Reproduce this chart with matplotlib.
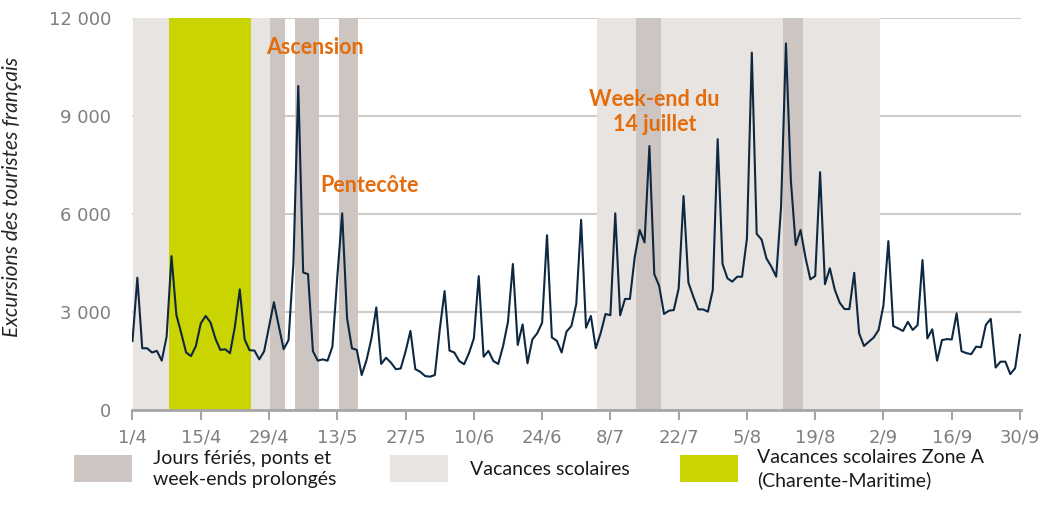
import matplotlib.pyplot as plt
from matplotlib.patches import Rectangle

# excursions journalières des touristes français, du 1/4 au 30/9
avril = [2110, 4050, 1890, 1890, 1760, 1810, 1510, 2250, 4710, 2910,
         2350, 1760, 1650, 1960, 2650, 2880, 2680, 2190, 1840, 1860,
         1740, 2550, 3690, 2160, 1830, 1820, 1550, 1800, 2550, 3300]
mai = [2570, 1860, 2140, 4490, 9920, 4210, 4160, 1800, 1510, 1550,
       1510, 1940, 4080, 6020, 2810, 1890, 1840, 1070, 1530, 2190,
       3140, 1410, 1600, 1450, 1250, 1270, 1790, 2420, 1250, 1170, 1040]
juin = [1020, 1070, 2450, 3640, 1820, 1760, 1500, 1400, 1740, 2190,
        4100, 1630, 1810, 1500, 1410, 1960, 2700, 4470, 1990, 2620,
        1430, 2160, 2350, 2670, 5350, 2220, 2120, 1760, 2400, 2570]
juillet = [3240, 5820, 2520, 2880, 1890, 2350, 2940, 2900, 6020, 2900,
           3400, 3400, 4690, 5510, 5130, 8080, 4160, 3800, 2940, 3040,
           3060, 3720, 6550, 3900, 3470, 3080, 3080, 3010, 3670, 8290, 4470]
aout = [4030, 3930, 4080, 4080, 5250, 10940, 5390, 5220, 4640, 4390,
        4080, 6220, 11220, 7040, 5050, 5510, 4670, 4000, 4100, 7280,
        3850, 4340, 3690, 3290, 3090, 3090, 4200, 2350, 1960, 2090, 2220]
septembre = [2450, 3210, 5170, 2570, 2500, 2420, 2700, 2450, 2600, 4590,
             2190, 2470, 1510, 2140, 2170, 2160, 2960, 1800, 1740, 1710,
             1940, 1920, 2610, 2790, 1300, 1480, 1480, 1100, 1280, 2300]

excursions = avril + mai + juin + juillet + aout + septembre
jours = list(range(len(excursions)))

tick_jours = [0, 14, 28, 42, 56, 70, 84, 98, 112, 126, 140, 154, 168, 182]
tick_labels = ['1/4', '15/4', '29/4', '13/5', '27/5', '10/6', '24/6',
               '8/7', '22/7', '5/8', '19/8', '2/9', '16/9', '30/9']

# périodes (en jours depuis le 1/4)
vacances = [(0.2, 28.2), (95.3, 153.3)]
vacances_zone_a = [(7.4, 24.4)]
feries = [(28.2, 31.3), (33.4, 38.3), (42.4, 46.3), (103.3, 108.3), (133.4, 137.4)]

c_ligne = '#0E2841'
c_feries = '#CDC5C1'
c_vac = '#E8E4E1'
c_zone_a = '#C9D400'
c_orange = '#E46C0A'
police = ['Lato', 'DejaVu Sans']

fig = plt.figure(figsize=(10.45, 5.11), dpi=100)
ax = fig.add_axes([132 / 1045, 101 / 511, 889 / 1045, 392 / 511])

for a, b in vacances:
    ax.axvspan(a, b, color=c_vac, lw=0, zorder=1)
for a, b in vacances_zone_a:
    ax.axvspan(a, b, color=c_zone_a, lw=0, zorder=1.5)
for a, b in feries:
    ax.axvspan(a, b, color=c_feries, lw=0, zorder=2)

ax.plot(jours, excursions, color=c_ligne, lw=1.5, zorder=3)

ax.set_xlim(-0.1, 182.2)
ax.set_ylim(0, 12000)
ax.set_yticks([0, 3000, 6000, 9000, 12000])
ax.set_yticklabels(['0', '3 000', '6 000', '9 000', '12 000'])
ax.set_xticks(tick_jours)
ax.set_xticklabels(tick_labels)
ax.grid(axis='y', color='#D0CBC7', lw=1.5, zorder=0)
ax.set_axisbelow(True)

for s in ['top', 'right', 'left']:
    ax.spines[s].set_visible(False)
ax.spines['bottom'].set_color('#A6A6A6')
ax.spines['bottom'].set_linewidth(2)
ax.tick_params(axis='x', length=7, width=1.5, color='#A6A6A6', labelsize=13,
               labelcolor='#7F7F7F', pad=6)
ax.tick_params(axis='y', length=0, labelsize=13, labelcolor='#7F7F7F', pad=15)

ax.set_ylabel('Excursions des touristes français', fontsize=15, style='italic',
              family=police, color='#262626')
ax.yaxis.set_label_coords(-0.124, 0.543)

ax.text(37.5, 11110, 'Ascension', color=c_orange, fontsize=15.5, fontweight='bold',
        family=police, ha='center', va='center', zorder=4)
ax.text(48.5, 6860, 'Pentecôte', color=c_orange, fontsize=15.5, fontweight='bold',
        family=police, ha='center', va='center', zorder=4)
ax.text(107, 9120, 'Week-end du\n14 juillet', color=c_orange, fontsize=15.5,
        fontweight='bold', family=police, ha='center', va='center',
        linespacing=1.2, zorder=4)

# légende en bas
legende = [(c_feries, 'Jours fériés, ponts et\nweek-ends prolongés', 74, 153),
           (c_vac, 'Vacances scolaires', 390, 470),
           (c_zone_a, 'Vacances scolaires Zone A\n(Charente-Maritime)', 680, 757)]
for couleur, texte, xp, xt in legende:
    fig.add_artist(Rectangle((xp / 1045, 29 / 511), 58 / 1045, 27 / 511,
                             transform=fig.transFigure, color=couleur, lw=0))
    fig.text(xt / 1045, 42 / 511, texte, fontsize=14, family=police,
             color='#1A1A1A', va='center', ha='left', linespacing=1.3)

fig.savefig('out.png', dpi=100)
